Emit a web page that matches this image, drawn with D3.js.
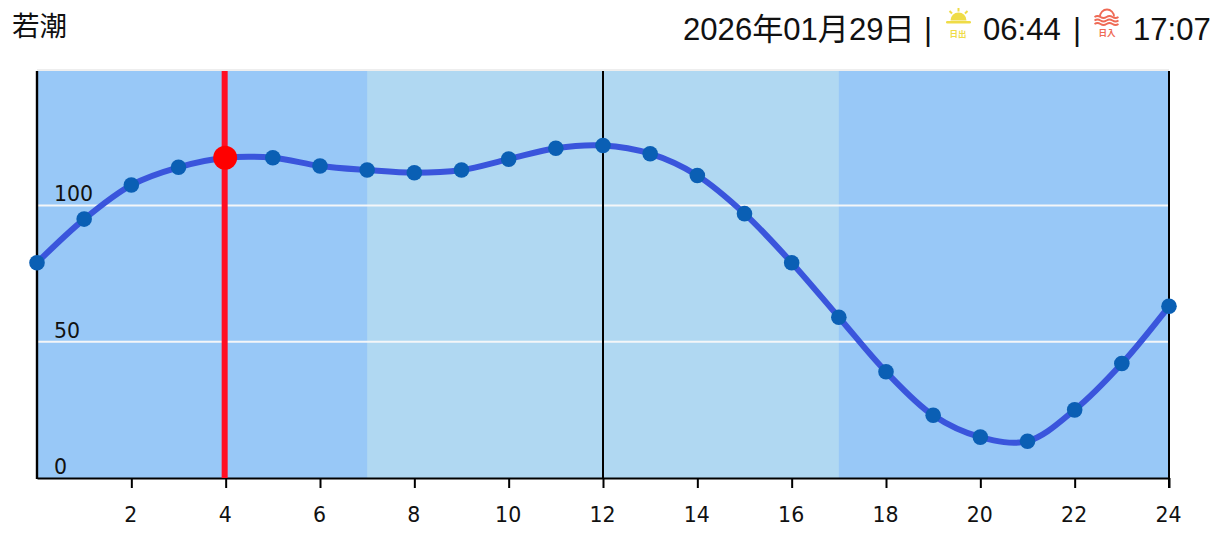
<!DOCTYPE html>
<html><head><meta charset="utf-8">
<script src="https://cdn.jsdelivr.net/npm/d3@7"></script>
<style>html,body{margin:0;padding:0;background:#fff;overflow:hidden}svg{display:block}
.hd{font-family:"Liberation Sans","Noto Sans CJK JP",sans-serif;font-size:31.1px;fill:#111}
.tk{font-family:"DejaVu Sans",sans-serif;font-size:20.5px;fill:#111}</style>
</head><body><svg id="c" width="1226" height="539"></svg>
<script>
const hours=d3.range(0,25);
const tideValues=[79,95,107.5,114,117.5,117.5,114.5,113,112,113,117,121,122,119,111,97,79,59,39,23,15,13.5,25,42,63];
const xTicks=[2,4,6,8,10,12,14,16,18,20,22,24];
const yTicks=[0,50,100];
const daylight=[7,17];
const currentHour=4;
const titleText="若潮";
const dateText="2026年01月29日";
const sunriseText="06:44";
const sunsetText="17:07";
const svg=d3.select("#c");
const x=d3.scaleLinear().domain([0,24]).range([37,1169]);
const y=d3.scaleLinear().domain([0,150]).range([478,69.2]);
svg.append("rect").attr("x",x(0)).attr("y",69).attr("width",x(24)-x(0)).attr("height",2).attr("fill","#eeeeee");
svg.append("rect").attr("x",x(0)).attr("y",71).attr("width",x(24)-x(0)).attr("height",y(0)-71).attr("fill","#98c8f7");
svg.append("rect").attr("x",x(daylight[0])).attr("y",71).attr("width",x(daylight[1])-x(daylight[0])).attr("height",y(0)-71).attr("fill","#b0d8f2");
svg.selectAll(".g").data(yTicks.filter(d=>d>0)).join("line").attr("x1",x(0)).attr("x2",x(24)).attr("y1",d=>y(d)).attr("y2",d=>y(d)).attr("stroke","#f4f6f8").attr("stroke-width",2);
svg.selectAll(".yl").data(yTicks).join("text").attr("class","tk").attr("x",54).attr("y",d=>y(d)-4).text(d=>d);
// axes
const ax=svg.append("g").attr("transform",`translate(0,${y(0)})`).call(d3.axisBottom(x).tickValues(xTicks).tickSize(10).tickPadding(19).tickSizeOuter(0));
ax.selectAll("text").attr("class","tk").attr("dx",-1).style("font-family",'"DejaVu Sans",sans-serif').style("font-size","20.5px").attr("fill","#111");
ax.selectAll("line").attr("stroke","#000").attr("stroke-width",2);
ax.select(".domain").attr("stroke","#000").attr("stroke-width",2);
svg.append("line").attr("x1",x(0)).attr("x2",x(0)).attr("y1",71).attr("y2",y(0)+1).attr("stroke","#000").attr("stroke-width",2.4);
svg.append("line").attr("x1",x(24)).attr("x2",x(24)).attr("y1",71).attr("y2",y(0)+10).attr("stroke","#000").attr("stroke-width",2);
svg.append("line").attr("x1",x(12)).attr("x2",x(12)).attr("y1",71).attr("y2",y(0)).attr("stroke","#000").attr("stroke-width",2);
svg.append("line").attr("x1",x(currentHour)-1).attr("x2",x(currentHour)-1).attr("y1",71).attr("y2",y(0)).attr("stroke","#ff0f23").attr("stroke-width",6);
const line=d3.line().x((d,i)=>x(hours[i])).y(d=>y(d)).curve(d3.curveCatmullRom.alpha(0.5));
svg.append("path").datum(tideValues).attr("d",line).attr("fill","none").attr("stroke","#3a55dc").attr("stroke-width",6);
svg.selectAll(".p").data(tideValues).join("circle").attr("cx",(d,i)=>x(hours[i])).attr("cy",d=>y(d)).attr("r",7.8).attr("fill","#0a5fb4");
svg.append("circle").attr("cx",x(currentHour)-0.5).attr("cy",y(tideValues[currentHour])).attr("r",12).attr("fill","#ff0000");
// header
svg.append("text").attr("class","hd").attr("x",12).attr("y",36).style("font-size","27.5px").text(titleText);
svg.append("text").attr("class","hd").attr("x",683).attr("y",39.5).text(dateText);
svg.append("text").attr("class","hd").attr("x",924).attr("y",39.5).text("|");
svg.append("text").attr("class","hd").attr("x",983).attr("y",39.5).text(sunriseText);
svg.append("text").attr("class","hd").attr("x",1073).attr("y",39.5).text("|");
svg.append("text").attr("class","hd").attr("x",1133).attr("y",39.5).text(sunsetText);
// sunrise icon
const s=svg.append("g").attr("fill","#efdc47").attr("stroke","none");
s.append("path").attr("d","M950.5 20.5a8 8 0 0 1 16 0z");
s.append("rect").attr("x",946).attr("y",21).attr("width",25).attr("height",2.5).attr("rx",1.2);
[[958.5,8,958.5,11.5],[949.5,11,952,13.5],[967.5,11,965,13.5]].forEach(a=>s.append("line").attr("x1",a[0]).attr("y1",a[1]).attr("x2",a[2]).attr("y2",a[3]).attr("stroke","#efdc47").attr("stroke-width",2));
svg.append("text").attr("x",958).attr("y",37).attr("text-anchor","middle").attr("font-family","Noto Sans CJK JP").attr("font-weight",700).attr("font-size",8.5).attr("fill","#efdc47").text("日出");
// sunset icon
const r=svg.append("g").attr("fill","none").attr("stroke","#ef6a55").attr("stroke-width",1.8);
r.append("path").attr("d","M1100 16.5a7 7 0 0 1 14 0");
[17,20.5,24].forEach(v=>r.append("path").attr("d",`M1094.5 ${v}q3 -2 6 0t6 0t6 0t6 0`));
svg.append("text").attr("x",1107).attr("y",36).attr("text-anchor","middle").attr("font-family","Noto Sans CJK JP").attr("font-weight",700).attr("font-size",8.5).attr("fill","#ef6a55").text("日入");
</script></body></html>
